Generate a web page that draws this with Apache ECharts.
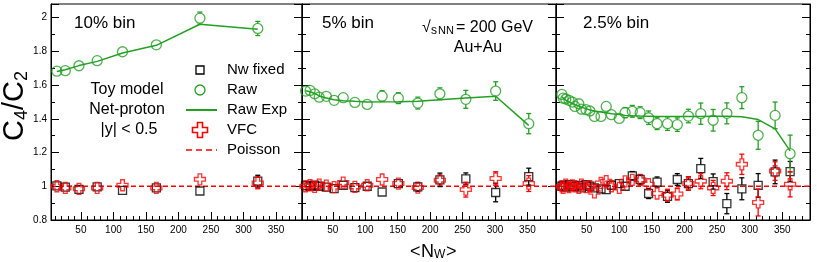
<!DOCTYPE html>
<html>
<head>
<meta charset="utf-8">
<script src="https://cdn.jsdelivr.net/npm/echarts@6.0.0/dist/echarts.min.js"></script>
<style>
  html, body { margin: 0; padding: 0; background: #fff; }
  #chart { width: 817px; height: 262px; }
</style>
</head>
<body>
<div id="chart"></div>
<script>
// C4/C2 vs <Nw>, toy model net-proton, three centrality bin widths

// --- 10% bin ---
const npart10 = [13, 26, 47, 75, 114, 166, 233, 322];
const raw10 = [1.682, 1.685, 1.714, 1.744, 1.797, 1.838, 1.996, 1.935];
const raw10Err = [0.008, 0.008, 0.008, 0.01, 0.01, 0.012, 0.036, 0.042];
const exp10 = [1.68, 1.69, 1.715, 1.74, 1.79, 1.835, 1.96, 1.93];
const nw10 = [1.002, 0.995, 0.982, 0.996, 0.976, 0.99, 0.972, 1.03];
const nw10Err = [0.008, 0.008, 0.008, 0.01, 0.01, 0.012, 0.02, 0.035];
const vfc10 = [1.0, 0.99, 0.985, 0.99, 1.006, 0.99, 1.041, 1.02];
const vfc10Err = [0.008, 0.008, 0.008, 0.01, 0.01, 0.012, 0.02, 0.035];

// --- 5% bin ---
const npart5 = [8, 15, 22, 29, 40, 52, 66, 84, 103, 126, 151, 181, 215, 255, 301, 352];
const raw5 = [1.564, 1.568, 1.548, 1.528, 1.533, 1.509, 1.525, 1.497, 1.485, 1.534, 1.522, 1.493, 1.548, 1.515, 1.564, 1.371];
const raw5Err = [0.01, 0.01, 0.01, 0.01, 0.012, 0.012, 0.015, 0.015, 0.018, 0.032, 0.032, 0.035, 0.035, 0.053, 0.055, 0.06];
const exp5 = [1.566, 1.56, 1.55, 1.535, 1.523, 1.513, 1.507, 1.503, 1.499, 1.5, 1.501, 1.503, 1.513, 1.523, 1.533, 1.361];
const nw5 = [1.004, 1.0, 1.006, 1.0, 0.995, 0.986, 1.006, 0.992, 1.0, 0.966, 1.016, 0.996, 1.038, 1.044, 0.963, 1.057];
const nw5Err = [0.008, 0.008, 0.008, 0.01, 0.01, 0.01, 0.012, 0.012, 0.015, 0.02, 0.02, 0.025, 0.04, 0.035, 0.055, 0.05];
const vfc5 = [1.0, 1.006, 0.996, 1.01, 1.004, 0.995, 1.022, 0.996, 1.006, 1.04, 1.016, 0.992, 1.036, 0.98, 1.046, 1.016];
const vfc5Err = [0.008, 0.008, 0.008, 0.01, 0.01, 0.01, 0.012, 0.012, 0.015, 0.02, 0.02, 0.025, 0.03, 0.044, 0.04, 0.047];

// --- 2.5% bin ---
const npart25 = [12, 14, 18, 23, 28, 32, 38, 42, 49, 55, 62, 72, 80, 88, 100, 109, 120, 132, 145, 158, 174, 189, 206, 225, 244, 265, 288, 313, 339, 362];
const raw25 = [1.544, 1.522, 1.517, 1.509, 1.499, 1.473, 1.489, 1.457, 1.454, 1.446, 1.414, 1.414, 1.473, 1.424, 1.402, 1.436, 1.444, 1.436, 1.406, 1.371, 1.371, 1.365, 1.416, 1.43, 1.391, 1.432, 1.525, 1.302, 1.42, 1.193];
const raw25Err = [0.01, 0.01, 0.01, 0.01, 0.012, 0.012, 0.012, 0.014, 0.015, 0.015, 0.018, 0.018, 0.02, 0.022, 0.025, 0.03, 0.035, 0.035, 0.04, 0.035, 0.04, 0.04, 0.04, 0.063, 0.064, 0.062, 0.065, 0.083, 0.079, 0.11];
const exp25 = [1.53, 1.52, 1.51, 1.5, 1.49, 1.485, 1.475, 1.468, 1.46, 1.452, 1.446, 1.44, 1.435, 1.43, 1.425, 1.42, 1.418, 1.416, 1.415, 1.414, 1.414, 1.414, 1.414, 1.414, 1.415, 1.415, 1.412, 1.395, 1.34, 1.21];
const nw25 = [1.0, 1.005, 0.995, 1.01, 0.998, 1.0, 1.005, 0.99, 1.01, 1.0, 0.99, 0.985, 0.98, 1.006, 1.016, 1.0, 1.062, 1.04, 0.957, 1.025, 0.94, 1.04, 1.016, 1.105, 1.028, 0.897, 0.985, 1.005, 1.085, 1.087];
const nw25Err = [0.01, 0.01, 0.01, 0.01, 0.01, 0.01, 0.01, 0.01, 0.01, 0.01, 0.012, 0.015, 0.015, 0.02, 0.02, 0.022, 0.025, 0.028, 0.03, 0.03, 0.035, 0.035, 0.04, 0.06, 0.045, 0.06, 0.065, 0.07, 0.07, 0.06];
const vfc25 = [1.0, 0.99, 1.01, 0.995, 1.005, 1.0, 0.99, 1.01, 0.995, 1.0, 0.964, 1.02, 1.03, 1.0, 0.99, 1.029, 1.038, 1.038, 1.012, 0.957, 0.947, 0.954, 1.016, 1.03, 0.99, 1.03, 1.13, 0.904, 1.09, 1.012];
const vfc25Err = [0.01, 0.01, 0.01, 0.01, 0.01, 0.01, 0.01, 0.01, 0.01, 0.01, 0.012, 0.015, 0.015, 0.02, 0.02, 0.022, 0.025, 0.028, 0.03, 0.03, 0.035, 0.035, 0.04, 0.045, 0.045, 0.05, 0.06, 0.08, 0.055, 0.075];

const xTickValues = [50, 100, 150, 200, 250, 300, 350];
const xMinorValues = [10, 20, 30, 40, 60, 70, 80, 90, 110, 120, 130, 140, 160, 170, 180, 190, 210, 220, 230, 240, 260, 270, 280, 290, 310, 320, 330, 340, 360, 370, 380];
const binLabels = ['10% bin', '5% bin', '2.5% bin'];

const panels = [
  { x: npart10, raw: raw10, rawErr: raw10Err, exp: exp10, nw: nw10, nwErr: nw10Err, vfc: vfc10, vfcErr: vfc10Err, xMin: 4, xMax: 390 },
  { x: npart5, raw: raw5, rawErr: raw5Err, exp: exp5, nw: nw5, nwErr: nw5Err, vfc: vfc5, vfcErr: vfc5Err, xMin: 2.5, xMax: 394 },
  { x: npart25, raw: raw25, rawErr: raw25Err, exp: exp25, nw: nw25, nwErr: nw25Err, vfc: vfc25, vfcErr: vfc25Err, xMin: 3, xMax: 392.5 }
];

const gridBoxes = [
  { left: 51, width: 251 },
  { left: 302, width: 254 },
  { left: 556, width: 254 }
];

const FONT = '"Liberation Sans", Arial, Helvetica, sans-serif';
const GREEN = '#22a022';
const RED = '#ff0000';
const CROSS = 'path://M1,0H2V1H3V2H2V3H1V2H0V1H1Z';

const zip = (xs, ys) => xs.map((x, i) => [x, ys[i]]);
const zip3 = (xs, ys, es) => xs.map((x, i) => [x, ys[i], es[i]]);

// vertical error bar with small caps, kept outside the marker
function errorBars(color, half) {
  return function (params, api) {
    const x = api.value(0), y = api.value(1), e = api.value(2);
    const c = api.coord([x, y]);
    const hi = api.coord([x, y + e])[1];
    const lo = api.coord([x, y - e])[1];
    const style = { stroke: color, lineWidth: 1.3 };
    const kids = [];
    if (c[1] - hi > half) {
      kids.push({ type: 'line', shape: { x1: c[0], y1: hi, x2: c[0], y2: c[1] - half }, style });
      kids.push({ type: 'line', shape: { x1: c[0] - 2.5, y1: hi, x2: c[0] + 2.5, y2: hi }, style });
    }
    if (lo - c[1] > half) {
      kids.push({ type: 'line', shape: { x1: c[0], y1: c[1] + half, x2: c[0], y2: lo }, style });
      kids.push({ type: 'line', shape: { x1: c[0] - 2.5, y1: lo, x2: c[0] + 2.5, y2: lo }, style });
    }
    return { type: 'group', children: kids };
  };
}

const grid = [], xAxis = [], yAxis = [], series = [];

panels.forEach((p, i) => {
  grid.push({
    left: gridBoxes[i].left, width: gridBoxes[i].width, top: 4, bottom: 42,
    show: true, borderColor: '#000', borderWidth: 1, backgroundColor: 'transparent'
  });
  // major ticks + labels
  xAxis.push({
    gridIndex: i, type: 'value', position: 'bottom', min: p.xMin, max: p.xMax,
    axisLine: { show: true, lineStyle: { color: '#000', width: 1 } },
    axisTick: { show: true, inside: true, length: 8, customValues: xTickValues, lineStyle: { color: '#000' } },
    axisLabel: { show: true, customValues: xTickValues, color: '#000', fontSize: 10, fontFamily: FONT, margin: 5 },
    splitLine: { show: false }
  });
  // minor ticks
  xAxis.push({
    gridIndex: i, type: 'value', position: 'bottom', min: p.xMin, max: p.xMax,
    axisLine: { show: false },
    axisTick: { show: true, inside: true, length: 4, customValues: xMinorValues, lineStyle: { color: '#000' } },
    axisLabel: { show: false },
    splitLine: { show: false }
  });
  const yCommon = {
    gridIndex: i, type: 'value', min: 0.8, max: 2.08, interval: 0.2,
    axisLine: { show: true, lineStyle: { color: '#000', width: 1 } },
    axisTick: { show: true, inside: true, length: 8, lineStyle: { color: '#000' } },
    minorTick: { show: true, splitNumber: 2, length: 4, lineStyle: { color: '#000' } },
    splitLine: { show: false }, minorSplitLine: { show: false }
  };
  yAxis.push(Object.assign({}, yCommon, {
    position: 'left',
    axisLabel: { show: i === 0, showMaxLabel: false, color: '#000', fontSize: 10, fontFamily: FONT, margin: 4 }
  }));
  yAxis.push(Object.assign({}, yCommon, { position: 'right', axisLabel: { show: false } }));

  const xi = 2 * i, yi = 2 * i;
  series.push({
    name: 'Poisson', type: 'line', xAxisIndex: xi, yAxisIndex: yi,
    data: [[p.xMin, 1], [p.xMax, 1]], symbol: 'none', silent: true, z: 1,
    lineStyle: { color: RED, width: 1.5, type: [5, 3] }
  });
  series.push({
    name: 'Raw Exp', type: 'line', xAxisIndex: xi, yAxisIndex: yi,
    data: zip(p.x, p.exp), symbol: 'none', z: 2,
    lineStyle: { color: GREEN, width: 1.5 }
  });
  series.push({
    name: 'Nw fixed', type: 'scatter', xAxisIndex: xi, yAxisIndex: yi,
    data: zip(p.x, p.nw), symbol: 'rect', symbolSize: 8, z: 3,
    itemStyle: { color: 'rgba(0,0,0,0)', borderColor: '#000', borderWidth: 1.3 }
  });
  series.push({
    type: 'custom', xAxisIndex: xi, yAxisIndex: yi, z: 3,
    encode: { x: 0, y: 1 }, data: zip3(p.x, p.nw, p.nwErr), renderItem: errorBars('#000', 4)
  });
  series.push({
    name: 'Raw', type: 'scatter', xAxisIndex: xi, yAxisIndex: yi,
    data: zip(p.x, p.raw), symbol: 'circle', symbolSize: 10, z: 4,
    itemStyle: { color: 'rgba(0,0,0,0)', borderColor: GREEN, borderWidth: 1.3 }
  });
  series.push({
    type: 'custom', xAxisIndex: xi, yAxisIndex: yi, z: 4,
    encode: { x: 0, y: 1 }, data: zip3(p.x, p.raw, p.rawErr), renderItem: errorBars(GREEN, 5)
  });
  series.push({
    name: 'VFC', type: 'scatter', xAxisIndex: xi, yAxisIndex: yi,
    data: zip(p.x, p.vfc), symbol: CROSS, symbolSize: 11, z: 5,
    itemStyle: { color: 'rgba(0,0,0,0)', borderColor: RED, borderWidth: 1.3 }
  });
  series.push({
    type: 'custom', xAxisIndex: xi, yAxisIndex: yi, z: 5,
    encode: { x: 0, y: 1 }, data: zip3(p.x, p.vfc, p.vfcErr), renderItem: errorBars(RED, 5.5)
  });
});

function txt(text, x, y, size, align, extra) {
  return Object.assign({
    type: 'text', x: x, y: y, z: 100,
    style: {
      text: text, font: size + 'px ' + FONT, fill: '#000',
      align: align || 'left', verticalAlign: 'middle',
      textAlign: align || 'left', textVerticalAlign: 'middle'
    }
  }, extra || {});
}

const graphic = [
  txt(binLabels[0], 74, 23, 17),
  txt(binLabels[1], 322, 23, 17),
  txt(binLabels[2], 583, 23, 17),
  // sqrt(sNN) = 200 GeV
  txt('\u221A', 422, 28, 16),
  txt('s', 431, 31, 12),
  txt('NN', 438, 31, 11),
  txt('= 200 GeV', 456, 28, 16),
  txt('Au+Au', 478, 48, 16, 'center'),
  // toy model annotations
  txt('Toy model', 127, 90, 16, 'center'),
  txt('Net-proton', 127, 110, 16, 'center'),
  txt('|y| < 0.5', 129, 130, 16, 'center'),
  // legend
  { type: 'rect', z: 100, shape: { x: 196, y: 66, width: 8, height: 8 }, style: { fill: 'none', stroke: '#000', lineWidth: 1.3 } },
  txt('Nw fixed', 227, 70, 15),
  { type: 'circle', z: 100, shape: { cx: 200, cy: 90, r: 5 }, style: { fill: 'none', stroke: GREEN, lineWidth: 1.3 } },
  txt('Raw', 227, 90, 15),
  { type: 'line', z: 100, shape: { x1: 186, y1: 110, x2: 217, y2: 110 }, style: { stroke: GREEN, lineWidth: 2 } },
  txt('Raw Exp', 227, 110, 15),
  { type: 'polygon', z: 100, shape: { points: [[197.5, 122.5], [202.5, 122.5], [202.5, 127.5], [207.5, 127.5], [207.5, 132.5], [202.5, 132.5], [202.5, 137.5], [197.5, 137.5], [197.5, 132.5], [192.5, 132.5], [192.5, 127.5], [197.5, 127.5]] }, style: { fill: 'none', stroke: RED, lineWidth: 1.6 } },
  txt('VFC', 227, 130, 15),
  { type: 'line', z: 100, shape: { x1: 186, y1: 150, x2: 217, y2: 150 }, style: { stroke: RED, lineWidth: 1.6, lineDash: [6, 4] } },
  txt('Poisson', 227, 150, 15),
  // y axis title: C4/C2, rotated
  {
    type: 'group', x: 15, y: 141, rotation: Math.PI / 2, z: 100,
    children: [
      txt('C', 0, 0, 29),
      txt('4', 21, 7, 18),
      txt('/', 31, 0, 29),
      txt('C', 39, 0, 29),
      txt('2', 60, 7, 18)
    ]
  },
  // x axis title: <Nw>
  txt('<', 410, 252, 18),
  txt('N', 421, 252, 18),
  txt('W', 434, 255, 12),
  txt('>', 446, 252, 18)
];

const chart = echarts.init(document.getElementById('chart'), null, { renderer: 'canvas' });
chart.setOption({
  animation: false,
  backgroundColor: '#fff',
  textStyle: { fontFamily: FONT },
  grid: grid,
  xAxis: xAxis,
  yAxis: yAxis,
  series: series,
  graphic: graphic
});
</script>
</body>
</html>
